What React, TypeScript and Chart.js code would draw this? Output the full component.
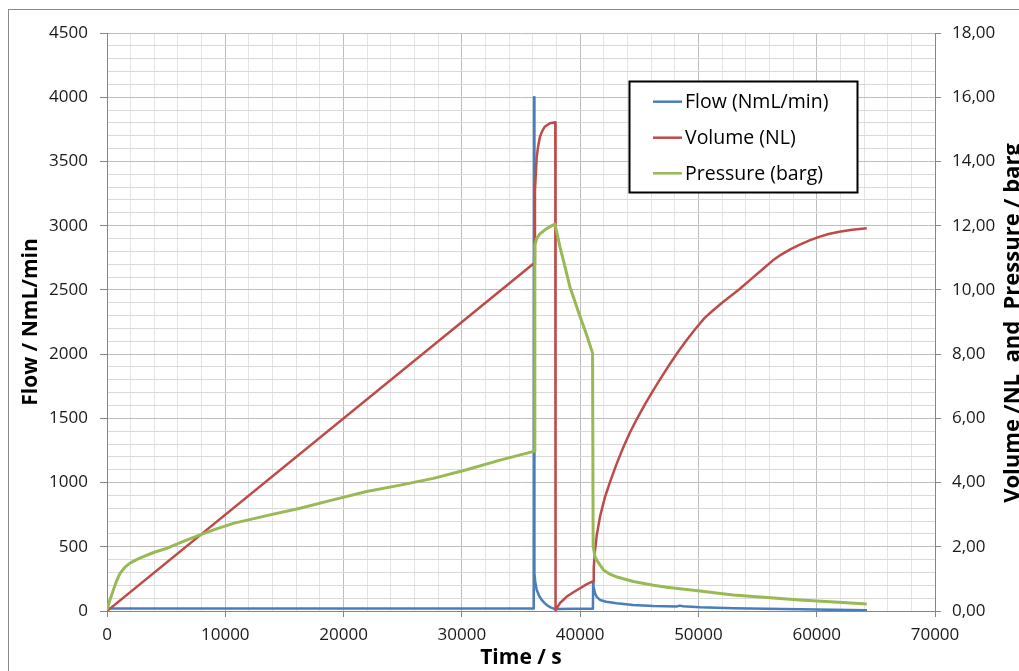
import React, { useEffect, useRef } from 'react';
import { Chart, registerables } from 'chart.js';

Chart.register(...registerables);

// ---- Data ----
const flowTime = [0, 36080, 36100, 36120, 36150, 36200, 36330, 36550, 36750, 37000, 37170, 37500, 37880, 38100, 39500, 41080, 41100, 41130, 41260, 41400, 41680, 42200, 43090, 44470, 46190, 48200, 48400, 48700, 50140, 52920, 55800, 58590, 61500, 64250];
const flowValues = [20, 20, 4000, 1500, 293, 230, 163, 115, 86, 62, 47, 28, 15, 15, 17, 18, 225, 190, 138, 110, 86, 72, 60, 47, 39, 36, 42, 37, 29, 21, 17, 13, 9, 5];

const volumeTime = [0, 36100, 36180, 36330, 36460, 36610, 36800, 37030, 37450, 37900, 37920, 38300, 38870, 39500, 39990, 40500, 41100, 41150, 41250, 41400, 41680, 42100, 42530, 43050, 43650, 44200, 44780, 45500, 46190, 46900, 47600, 48300, 49010, 49600, 50140, 50510, 51200, 52000, 52700, 53460, 54500, 55570, 56300, 57000, 57800, 58530, 59400, 60200, 61000, 61910, 63000, 64230];
const volumeValues = [0, 10.83, 13.1, 14.15, 14.5, 14.78, 14.95, 15.09, 15.19, 15.22, 0.02, 0.25, 0.45, 0.6, 0.71, 0.82, 0.93, 1.35, 1.85, 2.35, 2.94, 3.55, 4.02, 4.55, 5.1, 5.55, 5.97, 6.45, 6.88, 7.3, 7.7, 8.08, 8.44, 8.72, 8.96, 9.12, 9.35, 9.6, 9.8, 10.02, 10.35, 10.69, 10.92, 11.1, 11.27, 11.4, 11.54, 11.65, 11.74, 11.81, 11.87, 11.92];

const pressureTime = [0, 250, 533, 800, 1100, 1500, 1944, 2500, 3070, 4000, 5040, 6400, 7860, 9200, 10680, 13500, 16320, 19100, 21950, 24800, 27590, 30400, 33230, 34700, 36150, 36170, 36330, 36610, 37030, 37450, 37870, 38290, 38710, 39130, 39990, 40500, 41050, 41100, 41260, 41400, 41700, 41970, 42500, 43200, 44500, 46190, 47320, 48800, 50140, 51500, 52950, 55800, 58590, 61500, 64230];
const pressureValues = [0.03, 0.35, 0.65, 0.93, 1.17, 1.36, 1.49, 1.6, 1.69, 1.83, 1.95, 2.16, 2.37, 2.55, 2.73, 2.97, 3.2, 3.46, 3.72, 3.92, 4.13, 4.4, 4.7, 4.84, 4.98, 11.4, 11.6, 11.75, 11.87, 11.97, 12.05, 11.35, 10.73, 10.1, 9.17, 8.65, 8.03, 2.0, 1.69, 1.59, 1.42, 1.28, 1.15, 1.05, 0.92, 0.8, 0.74, 0.68, 0.62, 0.56, 0.5, 0.42, 0.34, 0.28, 0.22];

const seriesNames = ['Flow (NmL/min)', 'Volume (NL)', 'Pressure (barg)'];
const seriesColors = ['#4a7ebb', '#be4b48', '#98b954'];

const xTitle = 'Time / s';
const yLeftTitle = 'Flow / NmL/min';
const yRightTitle = 'Volume /NL  and  Pressure / barg';

const FONT = "'Open Sans', sans-serif";
const MAJOR_GRID = '#bdbdbd';
const MINOR_GRID_X = '#e4e4e4';
const MINOR_GRID_Y = '#d9d9d9';
const AXIS_LINE = '#868686';

function zip(t: number[], v: number[]) {
  return t.map((x, i) => ({ x, y: v[i] }));
}

const legendAndTitlePlugin = {
  id: 'customLegendTitle',
  afterDraw(chart: any) {
    const ctx = chart.ctx as CanvasRenderingContext2D;
    ctx.save();
    // legend box
    const bx = 621.5, by = 73.5, bw = 228, bh = 111;
    ctx.fillStyle = '#ffffff';
    ctx.fillRect(bx, by, bw, bh);
    ctx.strokeStyle = '#000000';
    ctx.lineWidth = 2;
    ctx.strokeRect(bx, by, bw, bh);
    const rows = [93.7, 129.7, 165.3];
    ctx.font = `19.5px ${FONT}`;
    ctx.textBaseline = 'middle';
    ctx.textAlign = 'left';
    seriesNames.forEach((name, i) => {
      ctx.strokeStyle = seriesColors[i];
      ctx.lineWidth = 2.5;
      ctx.beginPath();
      ctx.moveTo(645, rows[i]);
      ctx.lineTo(674, rows[i]);
      ctx.stroke();
      ctx.fillStyle = '#000000';
      ctx.fillText(name, 677, rows[i] + 1);
    });
    // right axis title (reads bottom to top)
    ctx.translate(1011, 315);
    ctx.rotate(-Math.PI / 2);
    ctx.font = `bold 22px ${FONT}`;
    ctx.textAlign = 'center';
    ctx.textBaseline = 'alphabetic';
    ctx.fillStyle = '#000000';
    ctx.fillText(yRightTitle, 0, 0);
    ctx.restore();
  },
};

export default function App() {
  const ref = useRef<HTMLCanvasElement | null>(null);

  useEffect(() => {
    if (!ref.current) return;
    const tickFont = { family: FONT, size: 17 };
    const titleFont = { family: FONT, size: 21, weight: 'bold' as const };
    const common = {
      pointRadius: 0,
      tension: 0,
      borderJoinStyle: 'round' as const,
    };
    const chart = new Chart(ref.current, {
      type: 'line',
      data: {
        datasets: [
          {
            ...common,
            label: seriesNames[0],
            data: zip(flowTime, flowValues),
            borderColor: seriesColors[0],
            borderWidth: 2.5,
            yAxisID: 'y',
            order: 3,
          },
          {
            ...common,
            label: seriesNames[1],
            data: zip(volumeTime, volumeValues),
            borderColor: seriesColors[1],
            borderWidth: 2.5,
            yAxisID: 'y1',
            order: 2,
          },
          {
            ...common,
            label: seriesNames[2],
            data: zip(pressureTime, pressureValues),
            borderColor: seriesColors[2],
            borderWidth: 3,
            yAxisID: 'y1',
            order: 1,
          },
        ],
      },
      options: {
        responsive: false,
        animation: false,
        events: [],
        layout: { padding: { top: 25, left: 0, right: 0, bottom: 0 } },
        plugins: { legend: { display: false }, tooltip: { enabled: false } },
        scales: {
          x: {
            type: 'linear',
            min: 0,
            max: 70000,
            afterFit: (s: any) => { s.height = 60; },
            ticks: {
              stepSize: 2000,
              autoSkip: false,
              maxRotation: 0,
              minRotation: 0,
              padding: 8,
              color: '#1a1a1a',
              font: tickFont,
              callback: (v: any) => (Math.round(v) % 10000 === 0 ? String(Math.round(v)) : ''),
            },
            grid: {
              color: (c: any) => (Math.round(c.tick.value) % 10000 === 0 ? MAJOR_GRID : MINOR_GRID_X),
              tickColor: (c: any) => (Math.round(c.tick.value) % 10000 === 0 ? AXIS_LINE : 'rgba(0,0,0,0)'),
              tickLength: 6,
            },
            border: { color: AXIS_LINE },
            title: { display: true, text: xTitle, font: titleFont, color: '#000', padding: { top: 0, bottom: 0 } },
          },
          y: {
            position: 'left',
            min: 0,
            max: 4500,
            afterFit: (s: any) => { s.width = 99; },
            ticks: {
              stepSize: 100,
              autoSkip: false,
              padding: 12,
              color: '#1a1a1a',
              font: tickFont,
              callback: (v: any) => (Math.round(v) % 500 === 0 ? String(Math.round(v)) : ''),
            },
            grid: {
              color: (c: any) => (Math.round(c.tick.value) % 500 === 0 ? MAJOR_GRID : MINOR_GRID_Y),
              tickColor: (c: any) => (Math.round(c.tick.value) % 500 === 0 ? AXIS_LINE : 'rgba(0,0,0,0)'),
              tickLength: 7,
            },
            border: { color: AXIS_LINE },
            title: { display: true, text: yLeftTitle, font: titleFont, color: '#000', padding: { top: 10, bottom: 0 } },
          },
          y1: {
            position: 'right',
            min: 0,
            max: 18,
            afterFit: (s: any) => { s.width = 118; },
            ticks: {
              stepSize: 2,
              padding: 11,
              color: '#1a1a1a',
              font: tickFont,
              callback: (v: any) => Number(v).toFixed(2).replace('.', ','),
            },
            grid: { drawOnChartArea: false, tickLength: 6, color: AXIS_LINE },
            border: { color: AXIS_LINE },
          },
        },
      },
      plugins: [legendAndTitlePlugin],
    });
    return () => chart.destroy();
  }, []);

  return (
    <div style={{ position: 'fixed', left: 8, top: 8, width: 1011, height: 663, overflow: 'hidden', background: '#fff' }}>
      <canvas ref={ref} width={1045} height={663} style={{ position: 'absolute', left: 0, top: 0 }} />
      <div
        style={{
          position: 'absolute',
          left: 0,
          top: 1,
          width: 2000,
          height: 2000,
          borderLeft: '1px solid #8a8a8a',
          borderTop: '1px solid #8a8a8a',
          pointerEvents: 'none',
        }}
      />
    </div>
  );
}
